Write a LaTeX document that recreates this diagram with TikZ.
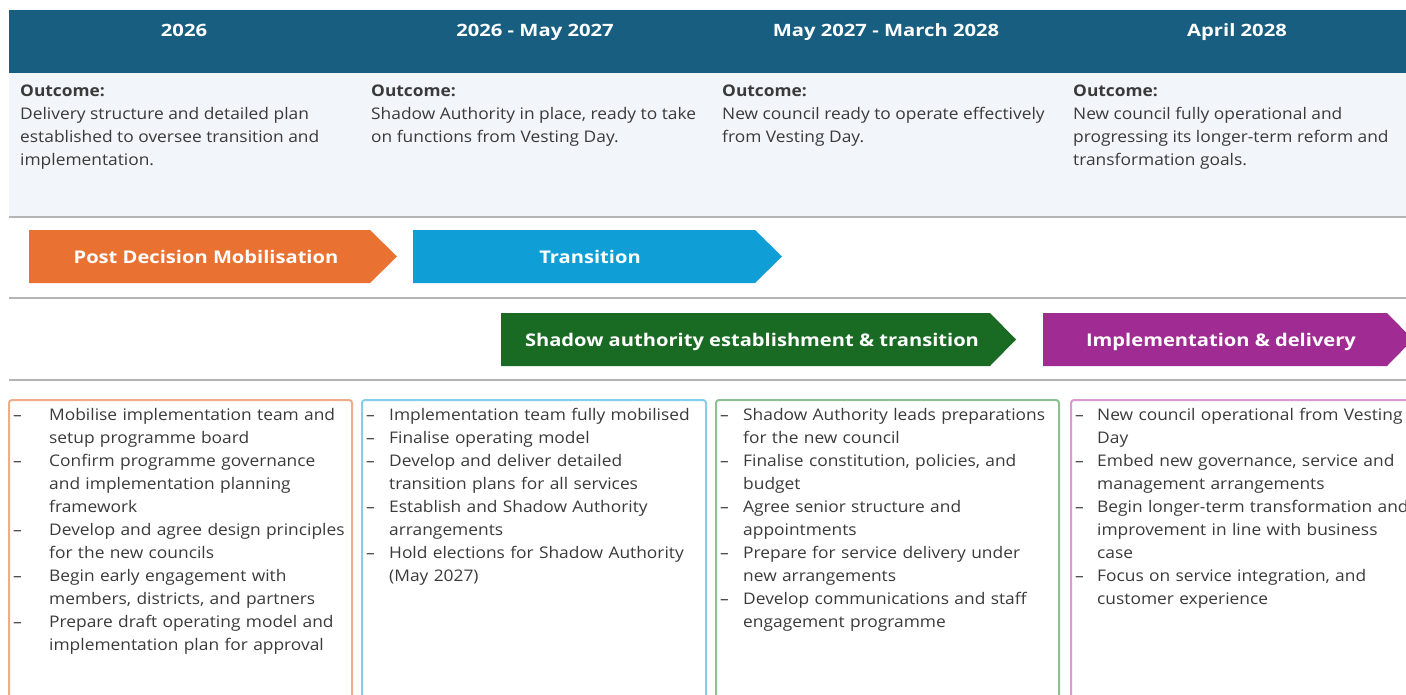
\documentclass[tikz,border=0pt]{standalone}
\usepackage{fontspec}
\setmainfont{Open Sans}[FakeStretch=1.085]
\newfontfamily\hdrfont{Open Sans}[FakeStretch=1.19]
\newfontfamily\chevfont{Open Sans}[FakeStretch=1.15]
\definecolor{hdr}{HTML}{175E80}
\definecolor{band}{HTML}{F2F5F9}
\definecolor{sepc}{HTML}{B4B4B4}
\definecolor{txt}{HTML}{3A3A3A}
\definecolor{corange}{HTML}{E97132}
\definecolor{cblue}{HTML}{0F9ED5}
\definecolor{cgreen}{HTML}{196B24}
\definecolor{cpurple}{HTML}{A02B93}
\definecolor{borange}{HTML}{F2AB8A}
\definecolor{bblue}{HTML}{86CDEB}
\definecolor{bgreen}{HTML}{8DBF92}
\definecolor{bpurple}{HTML}{D79BD3}
\newcommand\bitm[2]{\par\noindent\hangindent=#1\hangafter=1\makebox[#1][l]{–}\ignorespaces #2\par}
\tikzset{
  hdrtxt/.style={text=white, font=\hdrfont\fontsize{17}{20}\selectfont\bfseries, inner sep=0, anchor=base},
  outc/.style={text=txt, anchor=north west, inner sep=0, align=left, font=\fontsize{16}{23}\selectfont},
  chev/.style={text=white, font=\chevfont\fontsize{17.5}{20}\selectfont\bfseries, inner sep=0, anchor=base},
  sepline/.style={draw=sepc, line width=1.6pt},
  taskbox/.style={line width=2pt, rounded corners=3pt},
  tasktxt/.style={text=txt, anchor=north west, inner sep=0, text width=420pt, font=\fontsize{16}{23}\selectfont, align=left}
}
\begin{document}
\begin{tikzpicture}[x=1pt,y=-1pt]
\useasboundingbox (0,0) rectangle (1406,694);
\clip (0,0) rectangle (1406,694);
% header band
\fill[hdr] (9,10) rectangle (1420,73);
\fill[band] (9,73) rectangle (1420,217);
\draw[sepline] (9,217) -- (1420,217);
\node[hdrtxt] (h1) at (184,36) {2026};
\node[hdrtxt] (h2) at (535,36) {2026 - May 2027};
\node[hdrtxt] (h3) at (886,36) {May 2027 - March 2028};
\node[hdrtxt] (h4) at (1237,36) {April 2028};
% outcomes
\node[outc] (o1) at (20,84.5) {\textbf{Outcome:}\\Delivery structure and detailed plan\\established to oversee transition and\\implementation.};
\node[outc] (o2) at (371,84.5) {\textbf{Outcome:}\\Shadow Authority in place, ready to take\\on functions from Vesting Day.};
\node[outc] (o3) at (722,84.5) {\textbf{Outcome:}\\New council ready to operate effectively\\from Vesting Day.};
\node[outc] (o4) at (1073,84.5) {\textbf{Outcome:}\\New council fully operational and\\progressing its longer-term reform and\\transformation goals.};
% chevron row 1
\fill[corange] (29,230) -- (370,230) -- (397,256.5) -- (370,283) -- (29,283) -- cycle;
\node[chev] (c1) at (206,263) {Post Decision Mobilisation};
\fill[cblue] (413,230) -- (755,230) -- (782,256.5) -- (755,283) -- (413,283) -- cycle;
\node[chev] (c2) at (590,263) {Transition};
\draw[sepline] (9,298) -- (1420,298);
% chevron row 2
\fill[cgreen] (501,313) -- (990,313) -- (1016,339.5) -- (990,366) -- (501,366) -- cycle;
\node[chev] (c3) at (752,346) {Shadow authority establishment \& transition};
\fill[cpurple] (1043,313) -- (1387,313) -- (1413,339.5) -- (1387,366) -- (1043,366) -- cycle;
\node[chev] (c4) at (1221,346) {Implementation \& delivery};
\draw[sepline] (9,380) -- (1420,380);
% task boxes
\draw[taskbox, draw=borange] (9,710) -- (9,400) -- (352,400) -- (352,710);
\draw[taskbox, draw=bblue] (362,710) -- (362,400) -- (706,400) -- (706,710);
\draw[taskbox, draw=bgreen] (716,710) -- (716,400) -- (1059,400) -- (1059,710);
\draw[taskbox, draw=bpurple] (1071,710) -- (1071,400) -- (1430,400) -- (1430,710);
\node[tasktxt] (t1) at (13,397) {%
\bitm{36pt}{Mobilise implementation team and\newline setup programme board}
\bitm{36pt}{Confirm programme governance\newline and implementation planning\newline framework}
\bitm{36pt}{Develop and agree design principles\newline for the new councils}
\bitm{36pt}{Begin early engagement with\newline members, districts, and partners}
\bitm{36pt}{Prepare draft operating model and\newline implementation plan for approval}};
\node[tasktxt] (t2) at (366,397) {%
\bitm{23pt}{Implementation team fully mobilised}
\bitm{23pt}{Finalise operating model}
\bitm{23pt}{Develop and deliver detailed\newline transition plans for all services}
\bitm{23pt}{Establish and Shadow Authority\newline arrangements}
\bitm{23pt}{Hold elections for Shadow Authority\newline (May 2027)}};
\node[tasktxt] (t3) at (720,397) {%
\bitm{23pt}{Shadow Authority leads preparations\newline for the new council}
\bitm{23pt}{Finalise constitution, policies, and\newline budget}
\bitm{23pt}{Agree senior structure and\newline appointments}
\bitm{23pt}{Prepare for service delivery under\newline new arrangements}
\bitm{23pt}{Develop communications and staff\newline engagement programme}};
\node[tasktxt] (t4) at (1075,397) {%
\bitm{22pt}{New council operational from Vesting\newline Day}
\bitm{22pt}{Embed new governance, service and\newline management arrangements}
\bitm{22pt}{Begin longer-term transformation and\newline improvement in line with business\newline case}
\bitm{22pt}{Focus on service integration, and\newline customer experience}};
\end{tikzpicture}
\end{document}
